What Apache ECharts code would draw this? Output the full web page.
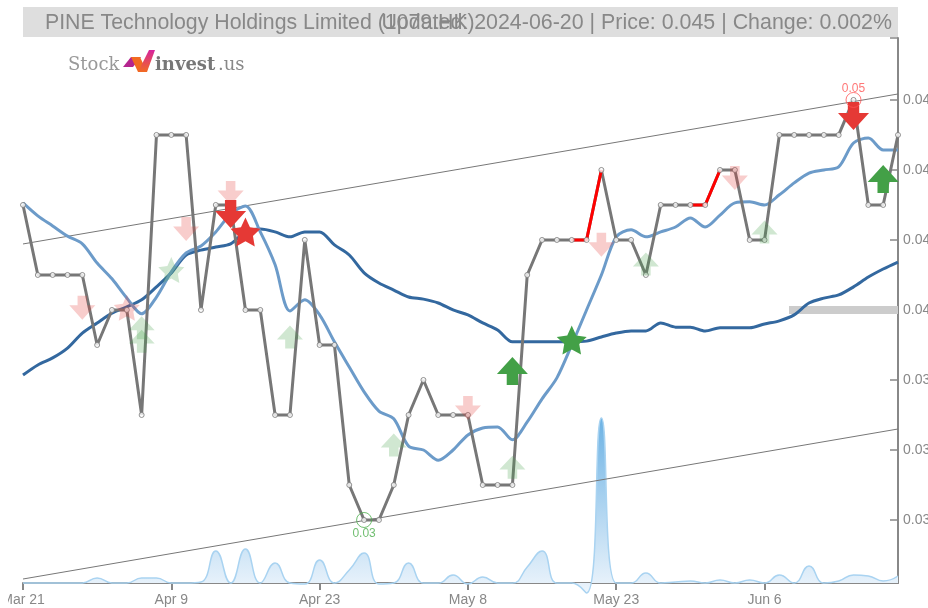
<!DOCTYPE html>
<html><head><meta charset="utf-8">
<style>html,body{margin:0;padding:0;background:#fff}#c{width:928px;height:608px}</style>
<script src="https://cdn.jsdelivr.net/npm/echarts@6/dist/echarts.min.js"></script>
</head><body><div id="c"></div>
<script>
const titleLeft = "PINE Technology Holdings Limited (1079.HK)";
const titleRight = "Updated: 2024-06-20 | Price: 0.045 | Change: 0.002%";
const tickLabels = {0:"Mar 21",10:"Apr 9",20:"Apr 23",30:"May 8",40:"May 23",50:"Jun 6"};
const yTicks = [0.034,0.036,0.038,0.04,0.042,0.044,0.046];
const price = [0.043,0.041,0.041,0.041,0.041,0.039,0.04,0.04,0.037,0.045,0.045,0.045,0.04,0.043,0.043,0.04,0.04,0.037,0.037,0.042,
 0.039,0.039,0.035,0.034,0.034,0.035,0.037,0.038,0.037,0.037,0.037,0.035,0.035,0.035,0.041,0.042,0.042,0.042,0.042,0.044,
 0.042,0.042,0.041,0.043,0.043,0.043,0.043,0.044,0.044,0.042,0.042,0.045,0.045,0.045,0.045,0.045,0.046,0.043,0.043,0.045];
const redRuns = [[37,38,39],[45,46,47]];
const shortMA = [0.04306,0.04269,0.0424,0.04211,0.04189,0.04134,0.04089,0.04034,0.03989,0.04037,0.04109,0.04163,0.04183,0.04223,0.04274,0.04297,0.04223,0.04129,0.03997,0.04029,
 0.03986,0.03909,0.03837,0.03766,0.03711,0.03689,0.03611,0.036,0.03571,0.036,0.03643,0.03663,0.03666,0.03629,0.0368,0.03746,0.03806,0.039,0.04,0.041,
 0.04209,0.04229,0.04209,0.04223,0.04237,0.04263,0.04237,0.04271,0.04306,0.04309,0.043,0.04329,0.04363,0.04391,0.044,0.04409,0.04477,0.04491,0.04457,0.04457];
const longMA = [0.03814,0.03843,0.03863,0.03891,0.03934,0.03963,0.03991,0.04009,0.04029,0.04066,0.04106,0.04157,0.04171,0.0418,0.04189,0.04223,0.04231,0.04223,0.04209,0.04223,
 0.04223,0.04186,0.04157,0.04106,0.04077,0.04057,0.04037,0.04031,0.0402,0.04,0.03986,0.03963,0.03943,0.03909,0.03909,0.03909,0.03909,0.03909,0.03911,0.03923,
 0.03934,0.0394,0.0394,0.03963,0.03951,0.03951,0.0394,0.03949,0.03949,0.03949,0.0396,0.03969,0.03986,0.0402,0.04034,0.04043,0.04066,0.04094,0.04117,0.04137];
const volume = [0,0,0,0,0,5,0,0,5,5,0,0,1,32,0,34,0,20,0,-1,
 23,0,13,30,-1,0,20,0,0,8,-1,6,0,0,16,32,0,0,-10,165,
 0,0,10,0,1,2,0,3,0,3,0,8,0,17,0,2,8,7,2,7];
const upperTrend = [[0,0.041886],[59,0.046171]];
const lowerTrend = [[0,0.032314],[59,0.0366]];
const supportBand = [[51.65,0.04],[59,0.04]];
const strongDown = [[14,0.04274],[56,0.04554]];
const paleDown = [[4,0.04006],[11,0.04231],[14,0.04334],[30,0.0372],[39,0.04186],[48,0.04377]];
const paleUp = [[8,0.03949],[8,0.03911],[18,0.03923],[25,0.03614],[33,0.03551],[42,0.04131],[50,0.04223]];
const strongUp = [[33,0.03826],[58,0.04374]];
const redStar = [[15,0.04223]];
const greenStar = [[37,0.03914]];
const paleGreenStar = [[10,0.04114]];
const paleRedStar = [[7,0.04006]];
const highPoint = [[56,0.046]];
const lowPoint = [[23,0.034]];

const GREY='#888', RED='#e53935', GREEN='#43a047';
const UP='path://M15 0L30 17L20.5 17L20.5 28L9.5 28L9.5 17L0 17Z';
const DOWN='path://M15 28L30 11L20.5 11L20.5 0L9.5 0L9.5 11L0 11Z';
const STAR='path://M50 0L65 33L100 38L75 62L81 97L50 80L19 97L25 62L0 38L35 33Z';
const idx = a => a.map((v,i)=>[i,v]);
const marks=(name,data,symbol,size,color,opacity,z)=>({name,type:'scatter',data,symbol,symbolSize:size,z,silent:true,
  itemStyle:{color,opacity,borderWidth:0}});
const redData = [];
redRuns.forEach(run=>{run.forEach(i=>redData.push([i,price[i]]));redData.push([run[run.length-1]+0.5,null]);});

const chart=echarts.init(document.getElementById('c'),null,{renderer:'canvas'});
chart.setOption({
 animation:false,
 textStyle:{fontFamily:'"Liberation Sans",Arial,sans-serif'},
 title:[
  {text:titleLeft,left:45,top:13,padding:0,z:5,textStyle:{fontSize:21.3,fontWeight:'normal',color:GREY,fontFamily:'"Liberation Sans"'}},
  {text:titleRight,right:36,top:13,padding:0,z:5,textStyle:{fontSize:21.4,fontWeight:'normal',color:GREY,fontFamily:'"Liberation Sans"'}}
 ],
 grid:{left:23,right:30,top:38,bottom:25,containLabel:false,outerBoundsMode:'none'},
 xAxis:{type:'value',min:0,max:59,interval:10,splitLine:{show:false},
  axisLine:{show:true,onZero:false,lineStyle:{color:GREY,width:2}},
  axisTick:{show:true,length:7,lineStyle:{color:GREY,width:2}},
  axisLabel:{fontSize:14,color:GREY,margin:10,showMaxLabel:false,formatter:v=>tickLabels[v]||''}},
 yAxis:[
  {type:'value',position:'right',min:0.0322,max:0.04777,splitLine:{show:false},
   axisLine:{show:true,onZero:false,lineStyle:{color:GREY,width:2}},
   axisTick:{show:true,inside:true,length:8,lineStyle:{color:GREY,width:1.5},customValues:[...yTicks,0.04777]},
   axisLabel:{fontSize:14,color:GREY,margin:5,padding:[8,0,0,0],customValues:yTicks,formatter:v=>String(+v.toFixed(3))}},
  {type:'value',min:0,max:545,show:false}
 ],
 graphic:[
  {type:'rect',z:-10,shape:{x:23,y:7,width:875,height:30},style:{fill:'#dedede'}},
  {type:'text',z:10,x:68,y:56,style:{text:'Stock',font:'18px "DejaVu Serif"',fill:'#999'}},
  {type:'polygon',z:10,shape:{points:[[123,67],[131,57],[141,57],[133,67]]},style:{fill:'#b5258f'}},
  {type:'polygon',z:10,shape:{points:[[131,57],[140,57],[147,72],[138,72]]},style:{fill:'#f26a21'}},
  {type:'polygon',z:10,shape:{points:[[138,72],[147,72],[155,50],[149,50]]},style:{fill:new echarts.graphic.LinearGradient(0,0,0,1,[{offset:0,color:'#d6249f'},{offset:1,color:'#f26a21'}])}},
  {type:'text',z:10,x:155,y:56,style:{text:'invest',font:'bold 18px "DejaVu Serif"',fill:'#777'}},
  {type:'text',z:10,x:218,y:56,style:{text:'.us',font:'18px "DejaVu Serif"',fill:'#888'}},
  {type:'rect',z:100,shape:{x:0,y:590,width:8,height:18},style:{fill:'#fff'}}
 ],
 series:[
  {name:'Volume',type:'line',yAxisIndex:1,data:idx(volume),smooth:0.5,symbol:'none',clip:false,z:1,silent:true,
   lineStyle:{color:'#a9d3f1',width:1.5},
   areaStyle:{opacity:1,color:new echarts.graphic.LinearGradient(0,0,0,1,[{offset:0,color:'#6cb2e4'},{offset:1,color:'#eef5fc'}])}},
  {name:'Upper',type:'line',data:upperTrend,symbol:'none',z:2,lineStyle:{color:'#777',width:1}},
  {name:'Lower',type:'line',data:lowerTrend,symbol:'none',z:2,lineStyle:{color:'#777',width:1}},
  {name:'Support',type:'line',data:supportBand,symbol:'none',z:2,lineStyle:{color:'#ccc',width:8}},
  {name:'Long MA',type:'line',data:idx(longMA),smooth:0.3,symbol:'none',z:3,lineStyle:{color:'#33689f',width:3}},
  {name:'Short MA',type:'line',data:idx(shortMA),smooth:0.3,symbol:'none',z:3,lineStyle:{color:'#6c9bc9',width:3}},
  {name:'Price',type:'line',data:idx(price),symbol:'none',z:4,lineStyle:{color:'#777',width:3}},
  {name:'Rise',type:'line',data:redData,symbol:'none',z:5,connectNulls:false,lineStyle:{color:'#f00',width:3}},
  {name:'Dots',type:'scatter',data:idx(price),symbol:'circle',symbolSize:5,z:6,silent:true,
   itemStyle:{color:'#fff',borderColor:'#777',borderWidth:1}},
  marks('Pale down',paleDown,DOWN,[26,24],RED,0.25,7),
  marks('Pale up',paleUp,UP,[26,23],GREEN,0.25,7),
  marks('Pale green star',paleGreenStar,STAR,[26,26],GREEN,0.25,7),
  marks('Pale red star',paleRedStar,STAR,[26,26],RED,0.25,7),
  marks('Down',strongDown,DOWN,[31,28],RED,1,8),
  marks('Up',strongUp,UP,[31,28],GREEN,1,8),
  marks('Red star',redStar,STAR,[30,29],RED,1,8),
  marks('Green star',greenStar,STAR,[30,29],GREEN,1,8),
  {name:'High',type:'scatter',data:highPoint,symbol:'circle',symbolSize:15,z:9,silent:true,
   itemStyle:{color:'rgba(0,0,0,0)',borderColor:'#f55',borderWidth:1},
   label:{show:true,position:'top',distance:-3,fontSize:12,color:'#f55',formatter:p=>p.value[1].toFixed(2)}},
  {name:'Low',type:'scatter',data:lowPoint,symbol:'circle',symbolSize:15,z:9,silent:true,
   itemStyle:{color:'rgba(0,0,0,0)',borderColor:'#4cae4c',borderWidth:1},
   label:{show:true,position:'bottom',distance:0,fontSize:12,color:'#4cae4c',formatter:p=>p.value[1].toFixed(2)}}
 ]
});
</script></body></html>
